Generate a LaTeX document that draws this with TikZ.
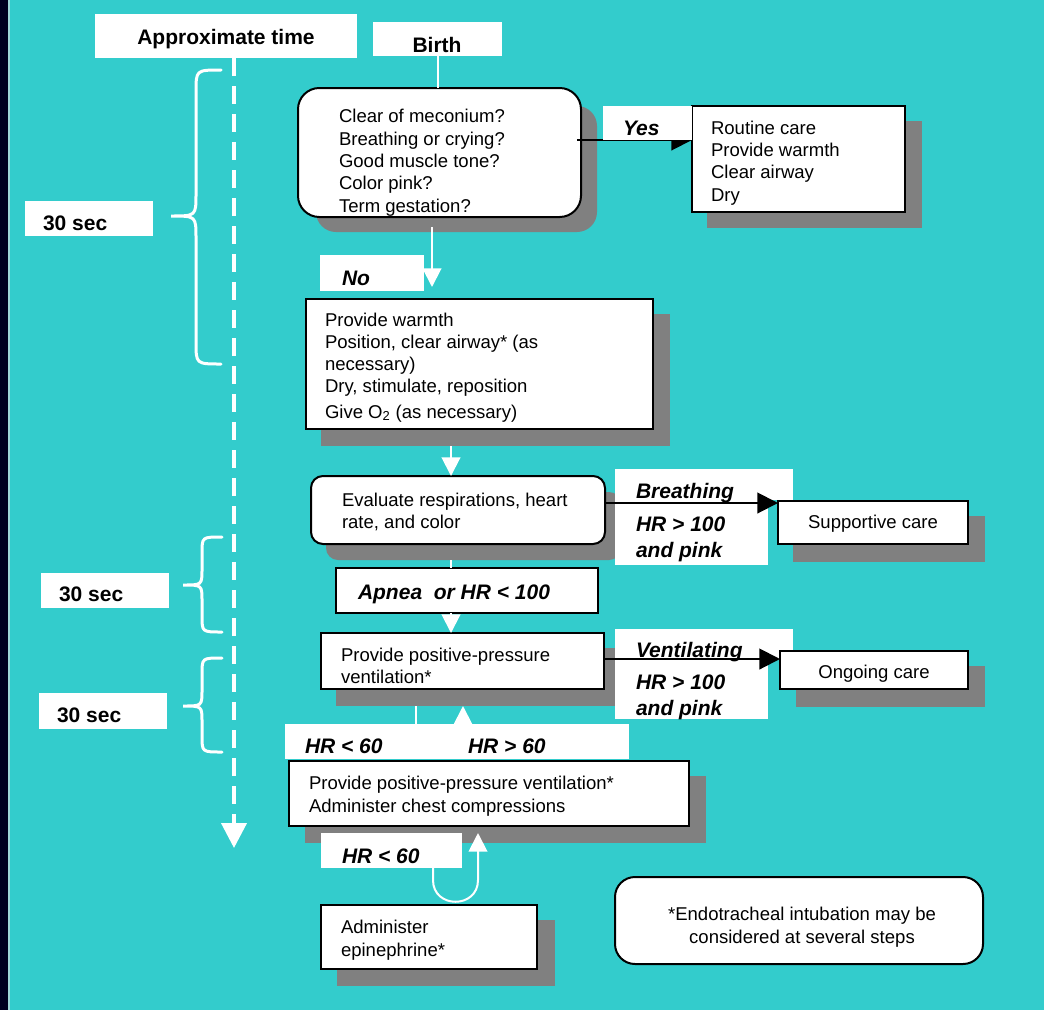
\documentclass[tikz,border=0pt]{standalone}
\usepackage{fontspec}
\setmainfont{Liberation Sans}
\usetikzlibrary{arrows.meta,fit,calc}
\definecolor{teal0}{HTML}{33CCCC}
\definecolor{navy0}{HTML}{000022}
\definecolor{shade0}{HTML}{808080}
\definecolor{edge0}{HTML}{A0D8DC}
\begin{document}
\begin{tikzpicture}[x=0.75pt,y=-0.75pt,
  boxfit/.style={inner sep=0pt, outer sep=0pt},
  wbox/.style={boxfit, fill=white, draw=black, line width=1.5pt},
  rbox/.style={wbox, rounded corners=15pt},
  lab/.style={boxfit, fill=white},
  shad/.style={boxfit, fill=shade0},
  rshad/.style={shad, rounded corners=15pt},
  bodytxt/.style={inner sep=0pt, outer sep=0pt, anchor=base west, align=left, font=\fontsize{13.9pt}{16.7pt}\selectfont},
  hdtxt/.style={inner sep=0pt, outer sep=0pt, anchor=base west, font=\fontsize{15.75pt}{19pt}\selectfont\bfseries},
  labtxt/.style={inner sep=0pt, outer sep=0pt, anchor=base west, align=left, font=\fontsize{15.75pt}{19pt}\selectfont\bfseries\itshape},
  wline/.style={draw=white, line width=1.5pt},
  warrow/.style={wline, -{Triangle[length=14pt,width=14pt]}},
  barrow/.style={draw=black, line width=1.5pt, -{Triangle[length=15.5pt,width=15.5pt]}},
  bracestyle/.style={draw=white, line width=2.25pt, line cap=round},
  dashline/.style={draw=white, line width=3pt, dash pattern=on 13.5pt off 7.5pt, -{Triangle[length=18.75pt,width=18.75pt]}}
]
\path[use as bounding box] (0,0) rectangle (1044,1010);
\fill[teal0] (0,0) rectangle (1044,1010);
\fill[navy0] (0,0) rectangle (8,1010);
\fill[edge0] (8.3,0) rectangle (10,1010);

% time axis labels
\node[lab, fit={(95,14)(357,58)}] (approx) {};
\node[lab, fit={(373,22)(502,56)}] (birth) {};
\node[lab, fit={(25,201)(153,236)}] (s1) {};
\node[lab, fit={(41,573)(169,608)}] (s2) {};
\node[lab, fit={(39,693)(167,729)}] (s3) {};

% dashed time arrow
\coordinate (tl0) at ($(approx.south)+(8,0)$);
\coordinate (tl1) at ($(tl0)+(0,790)$);
\draw[dashline] (tl0) -- (tl1);

% braces
\draw[bracestyle] (221,70) .. controls (196,70) .. (196,92) -- (196,194) .. controls (196,216) .. (171,216) .. controls (196,216) .. (196,238) -- (196,342) .. controls (196,364) .. (221,364);
\draw[bracestyle] (222,537) .. controls (202,537) .. (202,553) -- (202,569) .. controls (202,585) .. (183,585) .. controls (202,585) .. (202,601) -- (202,616) .. controls (202,632) .. (222,632);
\draw[bracestyle] (222,658) .. controls (202,658) .. (202,674) -- (202,690) .. controls (202,706) .. (183,706) .. controls (202,706) .. (202,722) -- (202,736) .. controls (202,752) .. (222,752);

% shadows
\node[rshad, fit={(316,106)(597,232)}] (q1sh) {};
\node[shad, fit={(707,121)(922,228)}] (routsh) {};
\node[shad, fit={(321,314)(670,446)}] (warmsh) {};
\node[rshad, rounded corners=9pt, fit={(326,492)(621,560)}] (evalsh) {};
\node[shad, fit={(793,516)(985,562)}] (suppsh) {};
\node[shad, fit={(336,648)(620,706)}] (ppvsh) {};
\node[shad, fit={(796,666)(985,707)}] (ongsh) {};
\node[shad, fit={(305,776)(706,843)}] (compsh) {};
\node[shad, fit={(337,920)(555,986)}] (epish) {};

% boxes
\node[rbox, rounded corners=16pt, fit={(298,88)(581,217)}] (q1) {};
\node[wbox, fit={(692,106)(905,212)}] (rout) {};
\node[lab, fit={(320,255)(424,291)}] (nolab) {};
\node[wbox, fit={(306,299)(653,429)}] (warm) {};
\node[rbox, rounded corners=9pt, fit={(311,476)(605,544)}] (eval) {};
\node[lab, fit={(615,469)(793,500)}] (brA) {};
\node[lab, fit={(615,469)(768,565)}] (brB) {};
\node[wbox, fit={(778,501)(968,544)}] (supp) {};
\node[wbox, line width=1.2pt, fit={(336,568)(598,613)}] (apnea) {};
\node[wbox, fit={(321,633)(604,689)}] (ppv) {};
\node[lab, fit={(615,629)(793,660)}] (veA) {};
\node[lab, fit={(615,629)(768,719)}] (veB) {};
\node[wbox, fit={(780,651)(968,689)}] (ong) {};
\node[lab, fit={(285,724)(629,759)}] (hrlab) {};
\node[wbox, fit={(289,761)(689,826)}] (comp) {};
\node[lab, fit={(321,833)(462,868)}] (hrb) {};
\node[wbox, fit={(321,905)(537,969)}] (epi) {};
\node[rbox, fit={(615,877)(983,964)}] (foot) {};

% white connectors
\draw[wline] (birth.south) -- (birth.south |- q1.north);
\coordinate (c1) at ($(q1.south)+(-7.5,10)$);
\draw[warrow, shorten >=9pt] (c1) -- (c1 |- warm.north);
\coordinate (c2) at ($(warmsh.south)+(-44.5,0)$);
\draw[warrow] (c2) -- (c2 |- eval.north);
\coordinate (c3) at ($(evalsh.south)+(-22.5,0)$);
\draw[wline] (c3) -- (c3 |- apnea.north);
\coordinate (c4) at ($(apnea.south)+(-16,0)$);
\draw[warrow] (c4) -- (c4 |- ppv.north);
\coordinate (c5) at ($(ppvsh.south)+(-62,0)$);
\draw[wline] (c5) -- (c5 |- hrlab.north);
\coordinate (c6) at ($(hrlab.north)+(6,0)$);
\draw[warrow] (c6) -- (c6 |- ppvsh.south);
\coordinate (c7) at ($(hrb.south)+(41.5,0)$);
\coordinate (lA) at ($(c7)+(0,12)$);
\coordinate (lB) at ($(lA)+(45,0)$);
\coordinate (lT) at (lB |- hrb.north);
\draw[warrow] (c7) -- (lA) .. controls ($(lA)+(0,29)$) and ($(lB)+(0,29)$) .. (lB) -- (lT);

% black connectors
\coordinate (yS) at ($(q1.east)+(-4,-12.5)$);
\draw[barrow] (yS) -- (yS -| rout.west);
\node[lab, fit={(603,106)(692,140)}] (yes) {};

% texts (multi-line nodes: base = baseline of last line)
\node[hdtxt, anchor=base] (tApprox) at (226,44) {Approximate time};
\node[hdtxt, anchor=base] (tBirth) at (437,52) {Birth};
\node[hdtxt] (tS1) at (43,230) {30 sec};
\node[hdtxt] (tS2) at (59,601) {30 sec};
\node[hdtxt] (tS3) at (57,722) {30 sec};

\node[bodytxt] (tQ1) at (339,212) {Clear of meconium?\\Breathing or crying?\\Good muscle tone?\\Color pink?\\Term gestation?};
\node[labtxt] (tYes) at (623,135) {Yes};
\node[bodytxt] (tRout) at (711,201) {Routine care\\Provide warmth\\Clear airway\\Dry};
\node[labtxt] (tNo) at (342,285) {No};
\node[bodytxt] (tWarm) at (325,418) {Provide warmth\\Position, clear airway* (as\\necessary)\\Dry, stimulate, reposition\\[2.2pt]Give O\textsubscript{2} (as necessary)};
\node[bodytxt, font=\fontsize{13.9pt}{16pt}\selectfont] (tEval) at (342,528) {Evaluate respirations, heart\\rate, and color};
\node[labtxt] (tBr) at (636,498) {Breathing};
\node[labtxt, font=\fontsize{15.75pt}{19pt}\selectfont\bfseries\itshape] (tBr2) at (636,557) {HR > 100\\and pink};
\node[bodytxt, anchor=base] (tSupp) at (873,528) {Supportive care};
\node[labtxt] (tApnea) at (358,599) {Apnea\ \ or HR < 100};
\node[bodytxt, font=\fontsize{13.9pt}{16pt}\selectfont] (tPpv) at (341,683) {Provide positive-pressure\\ventilation*};
\node[labtxt] (tVe) at (636,657) {Ventilating};
\node[labtxt, font=\fontsize{15.75pt}{19.5pt}\selectfont\bfseries\itshape] (tVe2) at (636,715) {HR > 100\\and pink};
\node[bodytxt, anchor=base] (tOng) at (874,678) {Ongoing care};
\node[labtxt] (tHr1) at (305,753) {HR < 60};
\node[labtxt] (tHr2) at (468,753) {HR > 60};
\node[bodytxt, font=\fontsize{13.9pt}{17.2pt}\selectfont] (tComp) at (309,812) {Provide positive-pressure ventilation*\\Administer chest compressions};
\node[labtxt] (tHr3) at (342,863) {HR < 60};
\node[bodytxt] (tEpi) at (341,956) {Administer\\epinephrine*};
\node[bodytxt, anchor=base, align=center] (tFoot) at (802,943) {*Endotracheal intubation may be\\considered at several steps};

\coordinate (bS) at ($(eval.east)+(-1,-7)$);
\draw[barrow] (bS) -- (bS -| supp.west);
\coordinate (vS) at ($(ppv.east)+(0,-2)$);
\draw[barrow] (vS) -- (vS -| ong.west);
\end{tikzpicture}
\end{document}
